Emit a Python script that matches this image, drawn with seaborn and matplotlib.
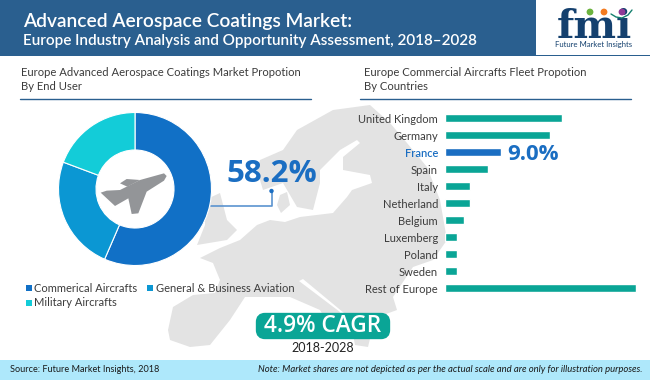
import matplotlib
matplotlib.use('Agg')
import matplotlib.pyplot as plt
from matplotlib.patches import Polygon, Rectangle, FancyBboxPatch, Circle
import pandas as pd
import seaborn as sns

# donut values
endUsers = ['Commerical Aircrafts', 'General & Business Aviation', 'Military Aircrafts']
endUserShares = [56.5, 24.2, 19.3]
endUserColors = ['#1170c6', '#0b97d3', '#13ccd8']

# fleet share by country
countries = ['United Kingdom', 'Germany', 'France', 'Spain', 'Italy', 'Netherland',
             'Belgium', 'Luxemberg', 'Poland', 'Sweden', 'Rest of Europe']
fleetShares = [18.9, 17.0, 9.0, 7.0, 4.0, 4.0, 3.0, 2.0, 2.0, 2.0, 30.9]

HEADER = '#2a5f8f'
TEAL = '#0aa596'
BLUE = '#1b6ec2'
TEXT = '#3c3c3c'

sns.set_theme(style='white')
plt.rcParams['font.family'] = ['Lato', 'DejaVu Sans']

fig = plt.figure(figsize=(6.5, 3.8), dpi=100)

# background layer in pixel coordinates
bg = fig.add_axes([0, 0, 1, 1])
bg.set_xlim(0, 650)
bg.set_ylim(380, 0)
bg.axis('off')

# map of Europe, rough outline
mapColor = '#e3e3e3'
europe = [(200, 258), (220, 248), (240, 240), (257, 225), (270, 220), (285, 222), (300, 217),
          (333, 213), (347, 197), (352, 190), (372, 183), (370, 175), (343, 170), (343, 157),
          (360, 143), (357, 140), (340, 150), (320, 170), (320, 183), (313, 210), (297, 207),
          (283, 183), (263, 190), (257, 170), (260, 160), (283, 150), (297, 130), (333, 110),
          (370, 105), (390, 123), (407, 143), (427, 167), (440, 200), (447, 240), (433, 260),
          (413, 267), (393, 297), (397, 310), (375, 318), (368, 347), (355, 345), (350, 318),
          (303, 279), (299, 281), (340, 312), (335, 335), (320, 310), (290, 297), (245, 297),
          (230, 320), (210, 345), (190, 347), (170, 340), (168, 330), (173, 307), (193, 295),
          (215, 293), (220, 280), (213, 263)]
britain = [(197, 245), (227, 240), (237, 230), (227, 220), (220, 193), (205, 200), (205, 225)]
denmark = [(280, 195), (287, 192), (290, 205), (281, 213), (277, 205)]
for shape in [europe, britain, denmark]:
    bg.add_patch(Polygon(shape, closed=True, fc=mapColor, ec='none', zorder=1))

# header
bg.add_patch(Rectangle((0, 0), 650, 55.5, fc=HEADER, ec='none', zorder=2))
bg.add_patch(Rectangle((536, 0), 114, 54.5, fc='white', ec='none', zorder=3))
bg.text(23, 22, 'Advanced Aerospace Coatings Market:', color='white', fontsize=13.8,
        fontweight='semibold', va='center', zorder=4)
bg.text(23, 41, 'Europe Industry Analysis and Opportunity Assessment, 2018–2028', color='white',
        fontsize=11, fontweight='semibold', va='center', zorder=4)

# logo
bg.text(594, 38, 'fmi', color='#14406e', fontsize=29, fontweight='bold', family='DejaVu Serif',
        ha='center', va='baseline', zorder=4)
bg.text(593.5, 44, 'Future Market Insights', color='#14406e', fontsize=5.6, ha='center',
        va='center', zorder=4)
for cx, dotColor in [(590, '#6cb33f'), (604, '#f47b20'), (622, '#8e3a96')]:
    bg.add_patch(Circle((cx, 12), 3.4, fc=dotColor, ec='none', zorder=5))
bg.plot([611, 616, 622, 628, 632], [14, 17, 18, 15, 10], color='#14806e', lw=1, zorder=5)

# panel titles
bg.text(21, 72, 'Europe Advanced Aerospace Coatings Market Propotion', color=TEXT, fontsize=8.1, va='center')
bg.text(21, 87, 'By End User', color=TEXT, fontsize=8.1, va='center')
bg.text(364, 72, 'Europe Commercial Aircrafts Fleet Propotion', color=TEXT, fontsize=8.1, va='center')
bg.text(364, 87, 'By Countries', color=TEXT, fontsize=8.1, va='center')
bg.plot([20, 311], [99, 99], color=HEADER, lw=1)
bg.plot([360, 631], [99, 99], color=HEADER, lw=1)

# callout
bg.plot([211, 271.5, 271.5], [206, 206, 191], color='#5b93cf', lw=1.2, zorder=3)
bg.add_patch(Circle((271.5, 191), 2.2, fc=BLUE, ec='none', zorder=3))
bg.text(272, 174, '58.2%', color=BLUE, fontsize=22.5, fontweight='bold', family='Open Sans',
        ha='center', va='center', zorder=4)
bg.text(533, 155, '9.0%', color=BLUE, fontsize=16, fontweight='bold', family='Open Sans',
        ha='center', va='center', zorder=4)

# legend
legendPos = [(26, 288), (147, 288), (26, 303)]
for (lx, ly), label, color in zip(legendPos, endUsers, endUserColors):
    bg.add_patch(Rectangle((lx, ly - 3), 6, 6, fc=color, ec='none', zorder=4))
    bg.text(lx + 8.5, ly, label, color=TEXT, fontsize=8, va='center', zorder=4)

# CAGR
bg.add_patch(FancyBboxPatch((260, 317), 126, 18, boxstyle='round,pad=0,rounding_size=5', mutation_aspect=1,
                            fc=TEAL, ec=TEAL, lw=6, zorder=4))
bg.text(323, 326, '4.9% CAGR', color='white', fontsize=16.3, fontweight='semibold', family='Open Sans',
        ha='center', va='center', zorder=5)
bg.text(323, 348, '2018-2028', color='#222222', fontsize=9, ha='center', va='center', zorder=4)

# footer
bg.add_patch(Rectangle((0, 360), 650, 20, fc='#aee8fb', ec='none', zorder=2))
bg.text(10, 370, 'Source: Future Market Insights, 2018', color='#1a1a1a', fontsize=6.6, va='center', zorder=3)
bg.text(643, 370, 'Note: Market shares are not depicted as per the actual scale and are only for illustration purposes.',
        color='#1a1a1a', fontsize=6.8, style='italic', ha='right', va='center', zorder=3)

# donut
pieAx = fig.add_axes([(135 - 76.5) / 650, 1 - (189 + 76.5) / 380, 153 / 650, 153 / 380])
pieAx.pie(endUserShares, colors=endUserColors, startangle=90, counterclock=False,
          wedgeprops={'width': 0.49, 'edgecolor': 'white', 'linewidth': 0.8})
pieAx.set_xlim(-1, 1)
pieAx.set_ylim(-1, 1)
pieAx.patch.set_alpha(0)

# plane in the middle of the donut, on a top layer in pixel coordinates
top = fig.add_axes([0, 0, 1, 1])
top.set_xlim(0, 650)
top.set_ylim(380, 0)
top.axis('off')
planeBody = [(230, 78), (222, 70), (150, 90), (90, 120), (50, 122), (32, 128), (75, 168),
             (115, 145), (125, 192), (145, 190), (170, 125), (222, 92)]
planeWing = [(90, 100), (110, 87), (150, 90), (112, 110)]
for shape in [planeBody, planeWing]:
    top.add_patch(Polygon([(90 + px / 3, 150 + py / 3) for px, py in shape], closed=True, fc='#939598', ec='none'))

# bars
fleet = pd.DataFrame({'country': countries, 'share': fleetShares})
barColors = {c: (BLUE if c == 'France' else TEAL) for c in countries}
barAx = fig.add_axes([445 / 650, 1 - 297 / 380, 200 / 650, 187.5 / 380])
sns.barplot(data=fleet, x='share', y='country', hue='country', palette=barColors, dodge=False,
            width=0.47, saturation=1, legend=False, ax=barAx)
barAx.set_xlim(0, 200 / 6.18)
barAx.set_ylim(10.5, -0.5)
barAx.set_xlabel('')
barAx.set_ylabel('')
barAx.set_xticks([])
barAx.patch.set_alpha(0)
barAx.tick_params(axis='y', length=0, pad=5, labelsize=8)
for label in barAx.get_yticklabels():
    label.set_color(BLUE if label.get_text() == 'France' else TEXT)
    if label.get_text() == 'France':
        label.set_fontweight('semibold')
sns.despine(ax=barAx, left=True, bottom=True)

fig.savefig('out.png', dpi=100)
